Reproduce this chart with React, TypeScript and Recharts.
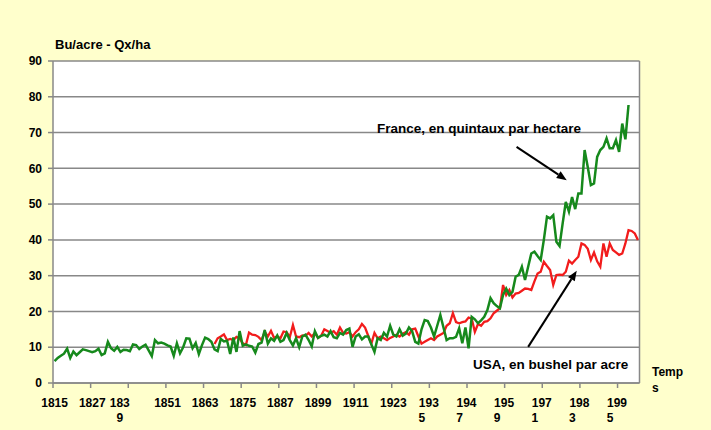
import React from 'react';
import {
    LineChart,
    Line,
    XAxis,
    YAxis,
    CartesianGrid,
    ReferenceLine,
    ReferenceDot,
} from 'recharts';

const firstYear = 1815;
const lastYear = 2001;
const usaFirstYear = 1866;

// France, quintaux par hectare, 1815 -> 1998
const franceYields = [
    6.1, 7.0, 7.6, 8.2, 9.6, 7.0, 8.8, 7.8, 8.6, 9.4,
    9.2, 8.9, 8.6, 8.9, 9.6, 7.8, 8.3, 11.5, 9.7, 9.0,
    10.1, 8.7, 9.3, 9.2, 8.9, 10.8, 10.6, 9.5, 10.2, 10.7,
    9.1, 7.5, 12.0, 11.1, 11.3, 11.0, 10.5, 10.2, 7.6, 11.1,
    8.3, 10.0, 12.5, 12.4, 9.7, 11.2, 8.1, 10.6, 12.7, 12.3,
    11.5, 9.4, 8.9, 12.3, 11.6, 11.8, 8.1, 12.7, 8.7, 14.5,
    10.4, 10.8, 10.4, 10.2, 8.5, 10.9, 11.3, 14.8, 11.0, 12.5,
    11.8, 13.3, 11.5, 12.0, 14.0, 12.0, 10.5, 12.5, 10.0, 13.0,
    13.5, 12.0, 10.2, 14.5, 12.6, 13.2, 13.5, 13.0, 14.5, 12.8,
    12.5, 14.0, 13.5, 14.8, 15.2, 10.1, 13.0, 13.6, 12.2, 13.0,
    13.0, 10.8, 8.7, 12.5, 12.0, 14.0, 13.0, 16.0, 13.5, 13.0,
    15.0, 13.2, 13.8, 15.5, 14.5, 11.5, 11.0, 15.0, 17.6, 17.3,
    15.5, 13.0, 16.0, 19.0, 15.5, 12.0, 12.5, 12.5, 12.9, 15.3,
    11.1, 15.5, 9.7, 18.5, 17.8, 16.7, 17.5, 18.5, 20.4, 23.7,
    22.3, 21.5, 20.9, 24.6, 26.4, 24.6, 25.5, 29.7, 30.2, 32.5,
    28.8, 32.5, 36.2, 36.7, 35.5, 34.4, 40.0, 46.5, 46.0, 46.9,
    39.5, 38.3, 44.6, 50.6, 47.9, 52.0, 48.6, 53.0, 53.0, 65.1,
    60.4, 55.3, 55.8, 63.2, 65.1, 66.0, 68.4, 65.6, 65.6, 67.9,
    64.6, 72.5, 68.1, 77.7,
];

// USA, bushels par acre, 1866 -> 2001
const usaYields = [
    10.9, 12.5, 13.0, 13.6, 12.0, 12.3, 12.0, 12.9, 12.5, 11.1,
    10.6, 14.1, 13.5, 13.4, 12.9, 12.0, 14.3, 13.0, 14.6, 12.6,
    13.0, 12.5, 14.4, 14.2, 12.8, 16.2, 13.0, 12.8, 13.3, 13.2,
    14.0, 13.0, 14.0, 12.6, 13.2, 15.0, 14.5, 14.0, 14.5, 13.5,
    15.5, 14.0, 13.8, 14.2, 13.0, 14.2, 15.0, 16.5, 15.5, 13.2,
    11.0, 14.0, 12.5, 13.0, 12.5, 12.0, 12.6, 13.0, 13.5, 13.0,
    13.8, 14.2, 13.5, 15.0, 15.2, 13.0, 11.0, 11.5, 12.0, 12.5,
    12.0, 13.0, 13.5, 14.0, 16.0, 16.7, 19.5, 17.0, 16.7, 17.0,
    17.2, 18.3, 18.0, 14.3, 16.5, 16.0, 17.1, 17.3, 18.1, 19.5,
    20.2, 20.9, 27.4, 24.6, 26.0, 23.9, 25.0, 25.2, 25.8, 26.4,
    26.3, 26.0, 28.4, 30.6, 31.1, 33.9, 32.7, 31.6, 27.4, 30.2,
    30.3, 30.2, 31.1, 34.2, 33.4, 34.4, 35.3, 39.0, 38.6, 37.5,
    34.4, 36.5, 34.0, 32.5, 39.0, 35.3, 39.0, 37.2, 36.5, 35.8,
    36.2, 39.0, 42.7, 42.5, 41.8, 40.0,
];

const xTickYears = [1815, 1827, 1839, 1851, 1863, 1875, 1887, 1899, 1911, 1923, 1935, 1947, 1959, 1971, 1983, 1995];
const xTickLabels = [
    ['1815'], ['1827'], ['183', '9'], ['1851'], ['1863'], ['1875'], ['1887'], ['1899'],
    ['1911'], ['1923'], ['193', '5'], ['194', '7'], ['195', '9'], ['197', '1'], ['198', '3'], ['199', '5'],
];
const yTicks = [0, 10, 20, 30, 40, 50, 60, 70, 80, 90];

const data: { year: number; france?: number; usa?: number }[] = [];
for (let year = firstYear; year <= lastYear; year++) {
    data.push({
        year,
        france: franceYields[year - firstYear],
        usa: year >= usaFirstYear ? usaYields[year - usaFirstYear] : undefined,
    });
}

const font = '"Liberation Sans", Arial, sans-serif';
const gridColor = '#888888';

// categories sit between tick marks, like the Excel original
const XTick = (props: any) => {
    const { x, y, payload } = props;
    const idx = xTickYears.indexOf(Math.round(payload.value + 0.5));
    const lines = idx >= 0 ? xTickLabels[idx] : [];
    const common = { fontFamily: font, fontSize: 12, fontWeight: 'bold' as const, fill: '#000', textAnchor: 'middle' as const };
    if (lines.length === 1) {
        return <text x={x + 1.6} y={y + 17} {...common}>{lines[0]}</text>;
    }
    const first = lines[0] === '183';
    return (
        <g>
            <text x={x + (first ? -8.5 : -0.5)} y={y + 17} {...common}>{lines[0]}</text>
            <text x={x + (first ? -8.5 : -7.5)} y={y + 32} {...common}>{lines[1]}</text>
        </g>
    );
};

const Arrow = (props: any) => {
    const { x1, y1, x2, y2 } = props;
    const a = Math.atan2(y2 - y1, x2 - x1);
    const len = 10;
    const half = 4;
    const bx = x2 - len * Math.cos(a);
    const by = y2 - len * Math.sin(a);
    const pts = `${x2},${y2} ${bx + half * Math.sin(a)},${by - half * Math.cos(a)} ${bx - half * Math.sin(a)},${by + half * Math.cos(a)}`;
    return (
        <g>
            <line x1={x1} y1={y1} x2={bx} y2={by} stroke="#000" strokeWidth={2} />
            <polygon points={pts} fill="#000" />
        </g>
    );
};

const noteText = (label: string) => (p: any) => (
    <text x={p.cx} y={p.cy} dominantBaseline="central" fontFamily={font} fontSize={13.5} fontWeight="bold" fill="#000">
        {label}
    </text>
);

const App: React.FC = () => {
    return (
        <div style={{ position: 'absolute', left: 0, top: 0, width: 711, height: 430, background: '#FFFFCC', fontFamily: font }}>
            <div style={{ position: 'absolute', left: 55, top: 37, fontSize: 13, fontWeight: 'bold', lineHeight: '15px' }}>
                Bu/acre - Qx/ha
            </div>
            <LineChart
                width={711}
                height={430}
                data={data}
                margin={{ top: 61, right: 71.5, bottom: 0, left: 0 }}
            >
                <CartesianGrid horizontal vertical={false} stroke={gridColor} strokeWidth={1.5} fill="#ffffff" />
                <XAxis
                    dataKey="year"
                    type="number"
                    scale="linear"
                    domain={[1814.5, 2001.5]}
                    allowDataOverflow
                    ticks={xTickYears.map((y) => y - 0.5)}
                    interval={0}
                    height={47}
                    tickSize={5}
                    tickMargin={2}
                    tick={<XTick />}
                    axisLine={{ stroke: gridColor, strokeWidth: 1.5 }}
                    tickLine={{ stroke: gridColor, strokeWidth: 1.5 }}
                />
                <YAxis
                    type="number"
                    domain={[0, 90]}
                    ticks={yTicks}
                    interval={0}
                    width={53}
                    tickSize={5}
                    tickMargin={6}
                    tick={{ fontFamily: font, fontSize: 12, fontWeight: 'bold', fill: '#000' }}
                    axisLine={{ stroke: gridColor, strokeWidth: 1.5 }}
                    tickLine={{ stroke: gridColor, strokeWidth: 1.5 }}
                />
                <ReferenceLine x={2001.5} stroke={gridColor} strokeWidth={1.5} />
                <Line dataKey="usa" stroke="#f21c1c" strokeWidth={2.3} dot={false} isAnimationActive={false} />
                <Line dataKey="france" stroke="#16891c" strokeWidth={2.5} dot={false} isAnimationActive={false} />
                <ReferenceLine
                    segment={[{ x: 1962.3, y: 66.0 }, { x: 1978.3, y: 56.7 }]}
                    shape={Arrow}
                />
                <ReferenceLine
                    segment={[{ x: 1966.0, y: 10.1 }, { x: 1981.5, y: 31.4 }]}
                    shape={Arrow}
                />
                <ReferenceDot x={1917.8} y={71.0} r={0} shape={noteText('France, en quintaux par hectare')} />
                <ReferenceDot x={1948.4} y={5.3} r={0} shape={noteText('USA, en bushel par acre')} />
            </LineChart>
            <div style={{ position: 'absolute', left: 652, top: 364, fontSize: 12, fontWeight: 'bold', lineHeight: '16px' }}>
                Temp
                <br />s
            </div>
        </div>
    );
};

export default App;
